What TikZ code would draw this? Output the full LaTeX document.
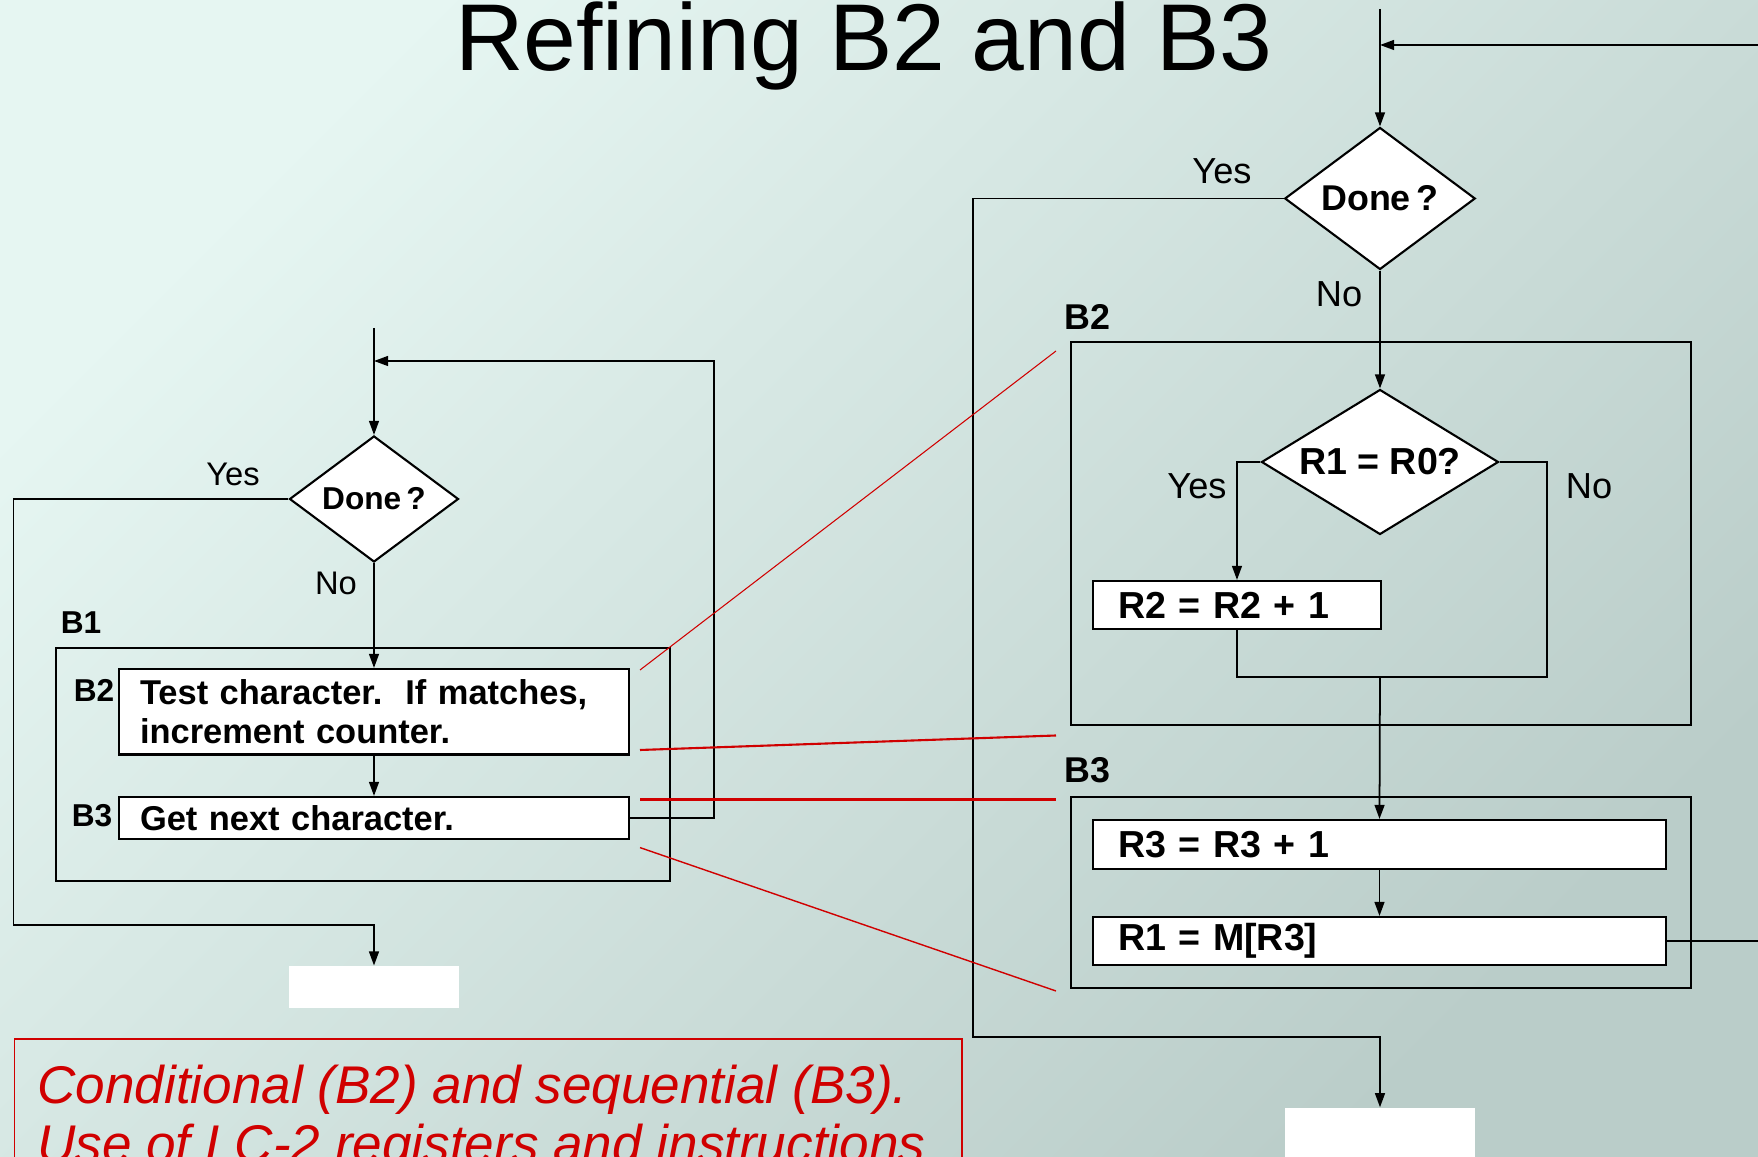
\documentclass[tikz,border=0pt]{standalone}
\usepackage{fontspec}
\setmainfont{Liberation Sans}
\usetikzlibrary{shapes.geometric,arrows.meta}
\definecolor{bgtop}{HTML}{E6F6F2}
\definecolor{bgbot}{HTML}{BACDC9}
\definecolor{zoomred}{HTML}{D00000}
\frenchspacing

\begin{document}
\begin{tikzpicture}[x=0.1mm,y=-0.1mm,
decision/.style={
	% The shape:
	diamond,inner sep=0pt,
	% The border:
	draw=black,line width=0.6pt,
	% The filling:
	fill=white},
process/.style={
	% The shape:
	rectangle,inner ysep=0pt,align=left,
	% The border:
	draw=black,line width=0.6pt,
	% The filling:
	fill=white},
blockframe/.style={rectangle,draw=black,line width=0.6pt,inner sep=0pt},
blocktag/.style={font=\fontsize{9}{11}\selectfont\bfseries},
answer/.style={font=\fontsize{9.3}{11}\selectfont},
flow/.style={line width=0.5pt,-{Triangle[length=4pt,width=2.8pt]}},
zoomline/.style={draw=zoomred},
captext/.style={text=zoomred,font=\fontsize{15.1}{17}\selectfont\itshape}]

\useasboundingbox (0,0) rectangle (1758,1157);
\clip (0,0) rectangle (1758,1157);
\shade[top color=bgtop,bottom color=bgbot,shading angle=45] (0,0) rectangle (1758,1157);

\node (title) [anchor=base,font=\fontsize{27}{32}\selectfont] at (864,71) {Refining B2 and B3};

%Begin left chart
\coordinate (lin) at (374,328);
\coordinate (lloop) at (714,361);
\coordinate (lyes) at (13.5,925);
\node (ldone) [decision,minimum width=16.9mm,minimum height=12.6mm,aspect=1.34,
	font=\fontsize{9}{11}\selectfont\bfseries] at (374,499) {Done\,?};
\node (lb1) [blockframe,minimum width=61.45mm,minimum height=23.3mm] at (363,764.5) {};
\node (lb2) [process,text width=46.8mm,inner xsep=2.1mm,minimum height=8.55mm,
	font=\fontsize{9.8}{11.1}\selectfont\bfseries] at (374,711.75)
	{Test character.~ If matches,\\increment counter.};
\node (lb3) [process,text width=46.8mm,inner xsep=2.1mm,minimum height=4.16mm,
	font=\fontsize{9.8}{11.1}\selectfont\bfseries] at (374,817.8) {Get next character.};
\node (lend) [fill=white,minimum width=17mm,minimum height=4.15mm,inner sep=0pt] at (374,987) {};

\node (lb1tag) [blocktag] at (81,623) {B1};
\node (lb2tag) [blocktag] at (94,690.6) {B2};
\node (lb3tag) [blocktag] at (92,816) {B3};
\node (lyestxt) [answer] at (233,474) {Yes};
\node (lnotxt) [answer] at (336,583) {No};

\draw[flow] (lin) -- (ldone.north);
\draw[flow] (ldone.south) -- (lb2.north);
\draw[flow] (lb2.south) -- (lb3.north);
\draw[flow] (lb3.east) -| (lloop) -- (lloop -| ldone.north);
\draw[flow] (ldone.west) -| (lyes) -| (lend.north);
%End left chart

%Begin right chart
\coordinate (rin) at (1380,9);
\coordinate (rloop) at (1775,45);
\coordinate (ryes) at (973,1037);
\coordinate (rno) at (1547,677);
\coordinate (rjoin) at (1380,677);
\node (rdone) [decision,minimum width=19.05mm,minimum height=14.2mm,aspect=1.34,
	font=\fontsize{10.2}{12}\selectfont\bfseries] at (1380,198.5) {Done\,?};
\node (rb2) [blockframe,minimum width=62mm,minimum height=38.3mm] at (1381,533.5) {};
\node (req) [decision,minimum width=23.7mm,minimum height=14.5mm,aspect=1.63,
	font=\fontsize{10.7}{12}\selectfont\bfseries] at (1380,462) {R1 = R0?};
\node (rr2) [process,text width=23.8mm,inner xsep=2.5mm,minimum height=4.8mm,
	font=\fontsize{10.7}{12}\selectfont\bfseries] at (1237,605) {R2 = R2 + 1};
\node (rb3) [blockframe,minimum width=62mm,minimum height=19.1mm] at (1381,892.5) {};
\node (rr3) [process,text width=52.3mm,inner xsep=2.5mm,minimum height=4.9mm,
	font=\fontsize{10.7}{12}\selectfont\bfseries] at (1379.5,844.5) {R3 = R3 + 1};
\node (rr1) [process,text width=52.3mm,inner xsep=2.5mm,minimum height=4.8mm,
	font=\fontsize{10.7}{12}\selectfont\bfseries] at (1379.5,941) {R1 = M[R3]};
\node (rend) [fill=white,minimum width=19.05mm,minimum height=6.4mm,inner sep=0pt] at (1380,1140) {};

\node (rb2tag) [blocktag,font=\fontsize{10.2}{12}\selectfont\bfseries] at (1087.5,317) {B2};
\node (rb3tag) [blocktag,font=\fontsize{10.2}{12}\selectfont\bfseries] at (1087.5,770) {B3};
\node (ryestxt) [answer,font=\fontsize{10.3}{12}\selectfont] at (1222,171.5) {Yes};
\node (rnotxt) [answer,font=\fontsize{10.3}{12}\selectfont] at (1339,294) {No};
\node (eqyestxt) [answer,font=\fontsize{10.3}{12}\selectfont] at (1197,486.6) {Yes};
\node (eqnotxt) [answer,font=\fontsize{10.3}{12}\selectfont] at (1589,486.6) {No};

\draw[flow] (rin) -- (rdone.north);
\draw[flow] (rdone.south) -- (req.north);
\draw[flow] (req.west) -| (rr2.north);
\draw[line width=0.5pt] (req.east) -| (rno) -| (rr2.south);
\draw[flow] (rjoin) -- (rr3.north);
\draw[flow] (rr3.south) -- (rr1.north);
\draw[flow] (rr1.east) -| (rloop) -- (rloop -| rdone.north);
\draw[flow] (rdone.west) -| (ryes) -| (rend.north);
%End right chart

% Now come the zoom lines...
\coordinate (z1a) at (640,670);   \coordinate (z1b) at (1056,351);
\coordinate (z2a) at (640,750);   \coordinate (z2b) at (1056,735.5);
\coordinate (z3a) at (640,799.5); \coordinate (z3b) at (1056,799.5);
\coordinate (z4a) at (640,847.6); \coordinate (z4b) at (1056,991);
\draw[zoomline,line width=0.3pt] (z1a) -- (z1b);
\draw[zoomline,line width=0.6pt] (z2a) -- (z2b);
\draw[zoomline,line width=0.9pt] (z3a) -- (z3b);
\draw[zoomline,line width=0.4pt] (z4a) -- (z4b);

% caption
\draw[zoomline,line width=0.5pt] (14.6,1039) rectangle (962,1250);
\node (cap1) [captext,anchor=base west] at (25,1104) {Conditional (B2) and sequential (B3).};
\node (cap2) [captext,anchor=base west] at (25,1162) {Use of LC-2 registers and instructions};

\end{tikzpicture}
\end{document}
